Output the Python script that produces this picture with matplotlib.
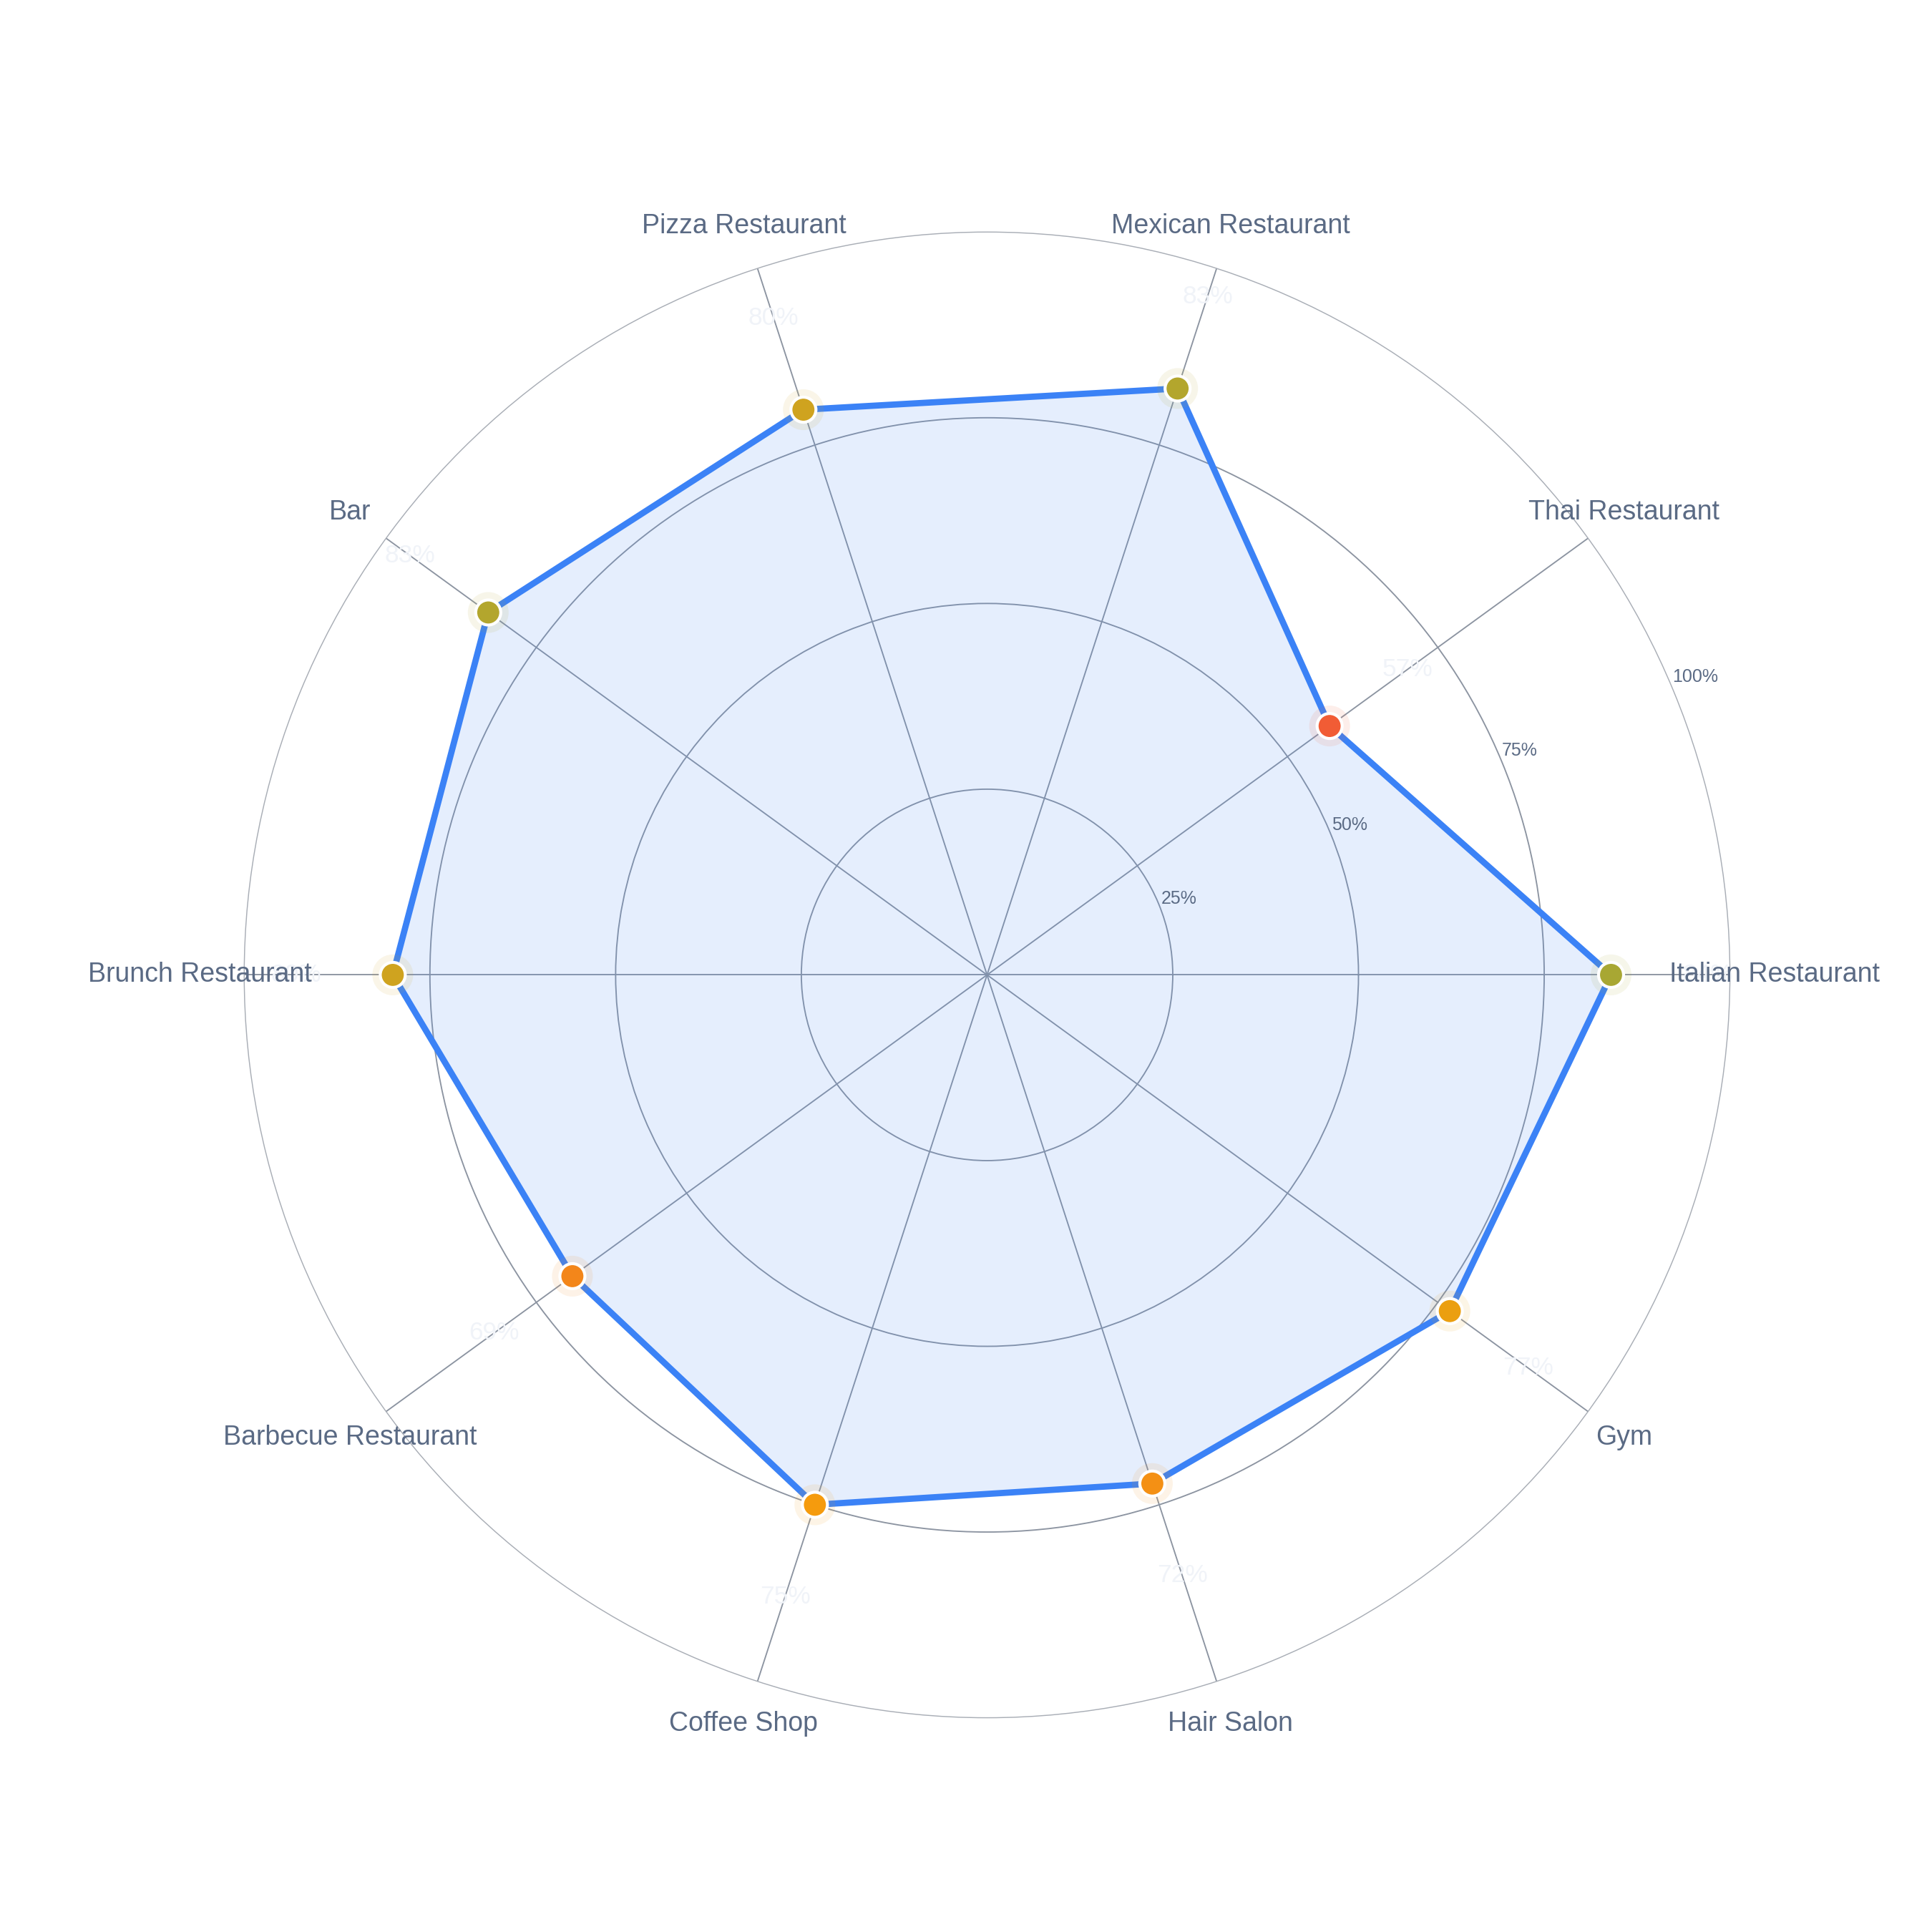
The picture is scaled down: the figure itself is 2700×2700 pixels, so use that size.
import numpy as np
import matplotlib.pyplot as plt
from matplotlib.colors import LinearSegmentedColormap, Normalize

plt.rcParams['font.family'] = ['Liberation Sans', 'DejaVu Sans']

# Data
categories = ["Italian Restaurant", "Thai Restaurant", "Mexican Restaurant",
              "Pizza Restaurant", "Bar", "Brunch Restaurant",
              "Barbecue Restaurant", "Coffee Shop", "Hair Salon", "Gym"]
values = [84, 57, 83, 80, 83, 80, 69, 75, 72, 77]
r_ticks = [25, 50, 75, 100]
r_tick_labels = ["25%", "50%", "75%", "100%"]

n = len(categories)
angles = np.linspace(0, 2 * np.pi, n, endpoint=False)
ang_closed = np.append(angles, angles[0])
val_closed = np.append(values, values[0])

# marker colours: red -> amber -> green by value
cmap = LinearSegmentedColormap.from_list(
    "score", [(0.0, "#ef4444"), (0.52, "#f59e0b"), (1.0, "#10b981")])
norm = Normalize(vmin=50, vmax=100)
point_colors = cmap(norm(values))

fig = plt.figure(figsize=(9, 9), dpi=300)
ax = fig.add_axes([0.1264, 0.1109, 0.769, 0.769], projection="polar")
ax.set_ylim(0, 100)

# grid: rings + spokes
ax.set_xticks(angles)
ax.set_xticklabels([])
ax.set_yticks(r_ticks[:-1])
ax.set_yticklabels([])
ax.tick_params(length=0)
ax.grid(color="#8c94a1", linewidth=0.45)
ax.spines["polar"].set_color("#a9aeb6")
ax.spines["polar"].set_linewidth(0.35)

# radial tick labels
tick_angle = np.deg2rad(23.5)
for t, lab in zip(r_ticks, r_tick_labels):
    ax.text(tick_angle, t + 0.6, lab, ha="left", va="center",
            fontsize=6, color="#5a6a84")

# filled polygon and outline
ax.fill(ang_closed, val_closed, color="#3b82f6", alpha=0.13, lw=0, zorder=2)
ax.plot(ang_closed, val_closed, color="#3b82f6", lw=2.1, zorder=3,
        solid_joinstyle="round")

# halo + markers
ax.scatter(angles, values, s=13.7 ** 2, c=point_colors, alpha=0.1,
           lw=0, zorder=4)
ax.scatter(angles, values, s=8.4 ** 2, c=point_colors, edgecolors="white",
           linewidths=1.0, zorder=5)

# value labels (very faint)
for a, v in zip(angles, values):
    ax.text(a, v + 13, f"{v}%", ha="center", va="center",
            fontsize=8.5, color="#f0f3f8", zorder=6)

# category labels
for a, cat in zip(angles, categories):
    ax.text(a, 106, cat, ha="center", va="center",
            fontsize=9, color="#5a6a84", zorder=6)

fig.savefig("out.png", dpi=300, facecolor="white")
